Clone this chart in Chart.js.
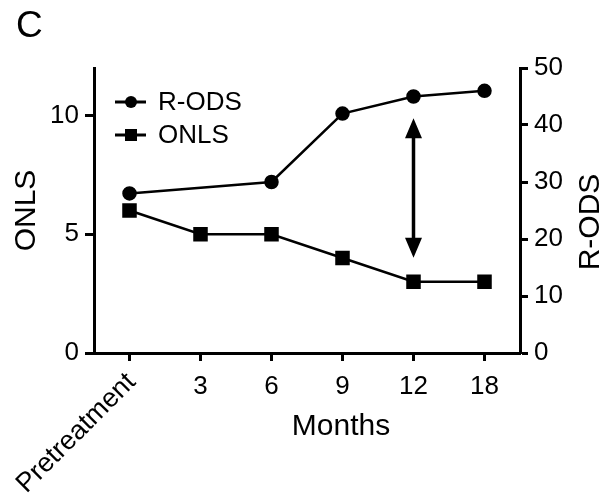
<!DOCTYPE html>
<html>
<head>
<meta charset="utf-8">
<script src="https://cdn.jsdelivr.net/npm/chart.js@4.4.1/dist/chart.umd.min.js"></script>
<style>
html, body { margin: 0; padding: 0; background: #fff; }
</style>
</head>
<body>
<canvas id="line-graph" width="599" height="498"></canvas>
<script>
// data
const months = ['Pretreatment', '3', '6', '9', '12', '18'];
const rodsValues = [28, null, 30, 42, 45, 46];
const onlsValues = [6, 5, 5, 4, 3, 3];
const onlsTicks = [0, 5, 10];
const rodsTicks = [0, 10, 20, 30, 40, 50];
const arrowMonth = '12';
const arrowRange = [41.2, 16.7]; // in R-ODS units

const FONT = "'Liberation Sans', Arial, sans-serif";
Chart.defaults.font.family = FONT;
Chart.defaults.color = '#000';

// panel letter, legend, arrow, rotated / offset labels
const extras = {
    id: 'extras',
    afterDraw(chart) {
        const ctx = chart.ctx;
        const area = chart.chartArea;
        const x = chart.scales.x;
        const yR = chart.scales.yR;
        ctx.save();
        ctx.fillStyle = '#000';
        ctx.strokeStyle = '#000';

        // "C"
        ctx.font = '37px ' + FONT;
        ctx.textAlign = 'left';
        ctx.textBaseline = 'alphabetic';
        ctx.fillText('C', 16, 37);

        // legend
        ctx.font = '26px ' + FONT;
        ctx.textBaseline = 'middle';
        chart.data.datasets.forEach((ds, i) => {
            const cy = area.top + 34 + i * 33;
            const lx = area.left + 21;
            ctx.lineWidth = 3;
            ctx.beginPath();
            ctx.moveTo(lx, cy);
            ctx.lineTo(lx + 31, cy);
            ctx.stroke();
            ctx.beginPath();
            if (ds.pointStyle === 'rect') {
                ctx.rect(lx + 10, cy - 6, 12, 12);
            } else {
                ctx.arc(lx + 16, cy, 6, 0, Math.PI * 2);
            }
            ctx.fill();
            ctx.fillText(ds.label, lx + 43, cy + 1);
        });

        // double-headed arrow
        const ax = x.getPixelForValue(months.indexOf(arrowMonth));
        const top = yR.getPixelForValue(arrowRange[0]);
        const bot = yR.getPixelForValue(arrowRange[1]);
        const head = 20, half = 8.5;
        ctx.lineWidth = 3.5;
        ctx.beginPath();
        ctx.moveTo(ax, top + head - 2);
        ctx.lineTo(ax, bot - head + 2);
        ctx.stroke();
        ctx.beginPath();
        ctx.moveTo(ax, top);
        ctx.lineTo(ax - half, top + head);
        ctx.lineTo(ax + half, top + head);
        ctx.closePath();
        ctx.moveTo(ax, bot);
        ctx.lineTo(ax - half, bot - head);
        ctx.lineTo(ax + half, bot - head);
        ctx.closePath();
        ctx.fill();

        // rotated first category label
        ctx.save();
        ctx.translate(x.getPixelForValue(0) + 2, x.top + 25);
        ctx.rotate(-Math.PI / 4);
        ctx.font = '27px ' + FONT;
        ctx.textAlign = 'right';
        ctx.textBaseline = 'middle';
        ctx.fillText(months[0], 0, 0);
        ctx.restore();

        // x title
        ctx.font = '30px ' + FONT;
        ctx.textAlign = 'center';
        ctx.textBaseline = 'alphabetic';
        ctx.fillText('Months', 341, 435);

        // right title, reading upward
        ctx.save();
        ctx.translate(599, 222);
        ctx.rotate(-Math.PI / 2);
        ctx.fillText('R-ODS', 0, 0);
        ctx.restore();

        ctx.restore();
    }
};

const tickFont = { size: 26, family: FONT };
const axisGrid = {
    display: true,
    drawOnChartArea: false,
    drawTicks: true,
    tickLength: 9,
    tickWidth: 3,
    tickColor: '#000'
};
const axisBorder = { display: true, color: '#000', width: 3 };

new Chart(document.getElementById('line-graph').getContext('2d'), {
    type: 'line',
    data: {
        labels: months,
        datasets: [
            {
                label: 'R-ODS',
                data: rodsValues,
                yAxisID: 'yR',
                spanGaps: true,
                borderColor: '#000',
                backgroundColor: '#000',
                borderWidth: 2.5,
                pointStyle: 'circle',
                pointRadius: 6,
                lineTension: 0
            },
            {
                label: 'ONLS',
                data: onlsValues,
                yAxisID: 'yL',
                borderColor: '#000',
                backgroundColor: '#000',
                borderWidth: 2.5,
                pointStyle: 'rect',
                pointRadius: 8.5,
                lineTension: 0
            }
        ]
    },
    options: {
        responsive: false,
        animation: false,
        layout: { padding: { top: 68, left: 0, right: 0, bottom: 0 } },
        plugins: {
            legend: { display: false },
            tooltip: { enabled: false }
        },
        scales: {
            x: {
                type: 'category',
                offset: true,
                grid: Object.assign({}, axisGrid, { tickLength: 8 }),
                border: axisBorder,
                ticks: {
                    font: tickFont,
                    color: '#000',
                    padding: 10,
                    maxRotation: 0,
                    autoSkip: false,
                    callback: (v, i) => i === 0 ? '' : months[i]
                },
                afterFit: s => { s.height = 145; }
            },
            yL: {
                position: 'left',
                min: 0,
                max: 12,
                grid: axisGrid,
                border: axisBorder,
                ticks: { font: tickFont, color: '#000', padding: 6 },
                afterBuildTicks: s => { s.ticks = onlsTicks.map(v => ({ value: v })); },
                afterFit: s => { s.width = 94; },
                title: {
                    display: true,
                    text: 'ONLS',
                    color: '#000',
                    font: { size: 30, family: FONT },
                    padding: { top: 9, bottom: 0 }
                }
            },
            yR: {
                position: 'right',
                min: 0,
                max: 50,
                grid: Object.assign({}, axisGrid, { tickLength: 8 }),
                border: axisBorder,
                ticks: { font: tickFont, color: '#000', padding: 6 },
                afterBuildTicks: s => { s.ticks = rodsTicks.map(v => ({ value: v })); },
                afterFit: s => { s.width = 79; }
            }
        }
    },
    plugins: [extras]
});
</script>
</body>
</html>
